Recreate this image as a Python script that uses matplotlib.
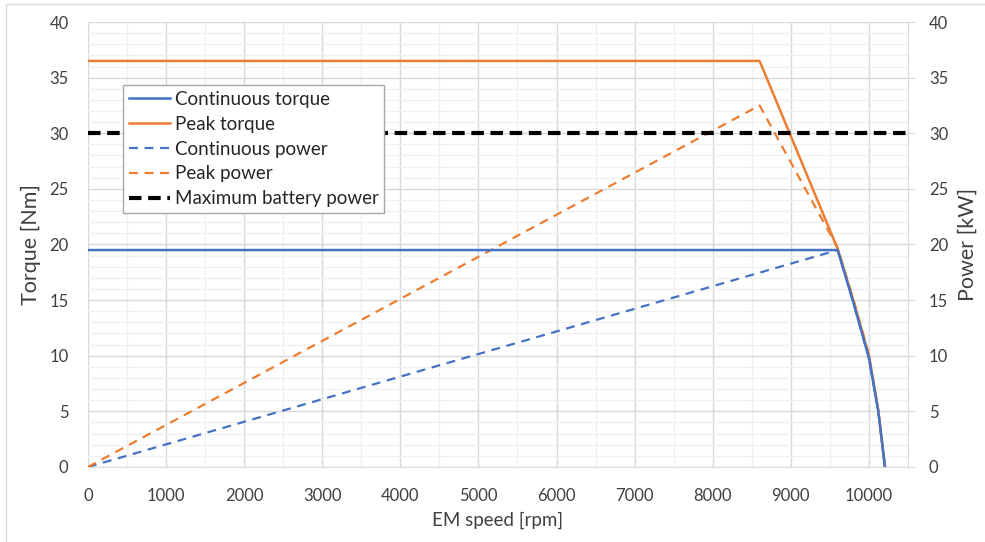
import matplotlib
matplotlib.use("Agg")
import matplotlib.pyplot as plt
from matplotlib.ticker import MultipleLocator
from matplotlib.patches import Rectangle

plt.rcParams["font.family"] = ["Lato", "DejaVu Sans"]

# Data
speed_peak_torque = [0, 8600, 9600, 9800, 10000, 10120, 10205]
peak_torque = [36.5, 36.5, 19.6, 15.0, 10.0, 5.1, 0.0]

speed_cont_torque = [0, 9600, 9800, 10000, 10120, 10205]
cont_torque = [19.5, 19.5, 14.8, 9.8, 5.0, 0.0]

speed_peak_power = [0, 8600, 9600, 9800, 10000, 10120, 10205]
peak_power = [0.0, 32.5, 19.7, 15.1, 10.1, 5.1, 0.0]

speed_cont_power = [0, 9600, 9800, 10000, 10120, 10205]
cont_power = [0.0, 19.5, 14.8, 9.8, 5.0, 0.0]

speed_battery = [0, 10500]
battery_power = [30, 30]

BLUE = "#4472C4"
ORANGE = "#ED7D31"
GRID = "#D9D9D9"
MINOR = "#F0F0F0"
TEXT = "#404040"

fig = plt.figure(figsize=(9.85, 5.42), dpi=100)
# chart area border (only top/left edges are inside the picture)
fig.patches.append(Rectangle((0.006, -0.1), 1.2, 1.093, transform=fig.transFigure,
                             fill=False, edgecolor=GRID, linewidth=1.0))

ax = fig.add_axes([0.0893, 0.1384, 0.8325, 0.8210])
ax2 = ax.twinx()   # secondary (power) scale, same 0-40 range

ax.set_xlim(0, 10500)
ax.set_ylim(0, 40)
ax2.set_ylim(0, 40)

ax.xaxis.set_major_locator(MultipleLocator(1000))
ax.xaxis.set_minor_locator(MultipleLocator(500))
ax.yaxis.set_major_locator(MultipleLocator(5))
ax.yaxis.set_minor_locator(MultipleLocator(1))
ax2.yaxis.set_major_locator(MultipleLocator(5))

ax.grid(which="major", color=GRID, linewidth=1.0)
ax.grid(which="minor", color=MINOR, linewidth=1.0)
ax.set_axisbelow(True)

# power curves (secondary scale has identical limits, so plot on ax to control stacking)
l3, = ax.plot(speed_cont_power, cont_power, color=BLUE, lw=1.6, dashes=(4, 3),
              label="Continuous power", zorder=2)
l4, = ax.plot(speed_peak_power, peak_power, color=ORANGE, lw=1.6, dashes=(4, 3),
              label="Peak power", zorder=2.1)
# torque curves
l2, = ax.plot(speed_peak_torque, peak_torque, color=ORANGE, lw=1.8, label="Peak torque", zorder=3)
l1, = ax.plot(speed_cont_torque, cont_torque, color=BLUE, lw=1.8, label="Continuous torque", zorder=4)
l5, = ax.plot(speed_battery, battery_power, color="black", lw=3.0, dashes=(3, 1.6),
              label="Maximum battery power", zorder=5)

for s in ["top", "left", "right"]:
    ax.spines[s].set_visible(False)
ax.spines["bottom"].set_color(GRID)
for s in ["top", "left", "bottom"]:
    ax2.spines[s].set_visible(False)
ax2.spines["right"].set_color(GRID)

ax.tick_params(axis="both", which="both", length=0, labelsize=12, labelcolor=TEXT)
ax.tick_params(axis="x", pad=15)
ax.tick_params(axis="y", pad=14)
ax2.tick_params(axis="y", length=5, color=GRID, labelsize=12, labelcolor=TEXT, pad=10)

ax.set_xlabel("EM speed [rpm]", fontsize=13.5, color=TEXT, labelpad=6)
ax.set_ylabel("Torque [Nm]", fontsize=15.5, color=TEXT, labelpad=6)
ax2.set_ylabel("Power [kW]", fontsize=15.5, color=TEXT, labelpad=7)

leg = ax.legend(handles=[l1, l2, l3, l4, l5], loc="upper left",
                bbox_to_anchor=(0.0427, 0.858), borderaxespad=0, fancybox=False,
                fontsize=13.5, handlelength=2.2, handletextpad=0.25, labelspacing=0.42,
                borderpad=0.3, framealpha=1)
leg.get_frame().set_edgecolor("#A6A6A6")
leg.get_frame().set_linewidth(1.0)
for t in leg.get_texts():
    t.set_color("#262626")
leg.set_zorder(10)

fig.savefig("out.png", dpi=100)
